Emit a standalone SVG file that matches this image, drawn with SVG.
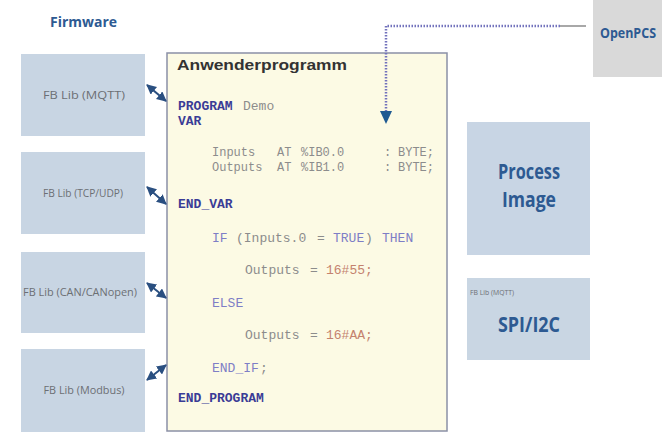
<svg xmlns="http://www.w3.org/2000/svg" width="662" height="432" viewBox="0 0 662 432">
<defs>
<marker id="ah" viewBox="0 0 10 10" refX="9" refY="5" markerWidth="5" markerHeight="5" orient="auto-start-reverse">
<path d="M0,0 L10,5 L0,10 z" fill="#2a4f80"/>
</marker>
<style>
.fb{fill:#c8d5e3;}
.fbt{font-family:"Open Sans","Liberation Sans",sans-serif;font-size:11px;fill:#6c6f74;text-anchor:middle;}
.big{font-family:"Open Sans","Liberation Sans",sans-serif;font-weight:bold;fill:#2d5a92;text-anchor:middle;}
.code{font-family:"Liberation Mono","DejaVu Sans Mono",monospace;font-size:13px;fill:#8c8c8c;}
.sm{font-size:12px;}
.kw{fill:#3a3c96;font-weight:bold;}
.kl{fill:#7e7ec6;}
.num{fill:#c4826e;}
.conn{stroke:#2a4f80;stroke-width:2;fill:none;}
</style>
</defs>
<rect width="662" height="432" fill="#ffffff"/>

<g id="title-firmware">
<text x="50" y="27" font-family="'Open Sans','Liberation Sans',sans-serif" font-weight="bold" font-size="15" fill="#2d5a92" textLength="67" lengthAdjust="spacingAndGlyphs">Firmware</text>
</g>

<g id="fb-mqtt">
<rect class="fb" x="21" y="54" width="124" height="82"/>
<text class="fbt" x="84" y="99" textLength="82" lengthAdjust="spacingAndGlyphs">FB Lib (MQTT)</text>
</g>
<g id="fb-tcp">
<rect class="fb" x="21" y="152" width="124" height="82"/>
<text class="fbt" x="83" y="197" textLength="80" lengthAdjust="spacingAndGlyphs">FB Lib (TCP/UDP)</text>
</g>
<g id="fb-can">
<rect class="fb" x="21" y="252" width="124" height="81"/>
<text class="fbt" x="80" y="296" textLength="114" lengthAdjust="spacingAndGlyphs">FB Lib (CAN/CANopen)</text>
</g>
<g id="fb-modbus">
<rect class="fb" x="21" y="349" width="124" height="83"/>
<text class="fbt" x="84" y="394" textLength="81" lengthAdjust="spacingAndGlyphs">FB Lib (Modbus)</text>
</g>

<g id="openpcs">
<rect x="593" y="0" width="69" height="77" fill="#d9d9d9"/>
<text x="600" y="38" font-family="'Open Sans','Liberation Sans',sans-serif" font-weight="bold" font-size="14" fill="#2d5a92" textLength="56" lengthAdjust="spacingAndGlyphs">OpenPCS</text>
</g>

<g id="process-image">
<rect x="467" y="122" width="123" height="133" fill="#c8d5e4"/>
<text class="big" x="529" y="179" font-size="21" textLength="62" lengthAdjust="spacingAndGlyphs">Process</text>
<text class="big" x="529" y="207" font-size="21" textLength="54" lengthAdjust="spacingAndGlyphs">Image</text>
</g>

<g id="spi-i2c">
<rect x="467" y="278" width="123" height="82" fill="#c9d6e3"/>
<text x="470" y="295" font-family="'Open Sans','Liberation Sans',sans-serif" font-size="8" fill="#6c6f74" textLength="44" lengthAdjust="spacingAndGlyphs">FB Lib (MQTT)</text>
<text class="big" x="529" y="332" font-size="21" textLength="62" lengthAdjust="spacingAndGlyphs">SPI/I2C</text>
</g>

<g id="anwenderprogramm">
<rect x="167" y="53" width="280" height="378" fill="#fcfae4" stroke="#8b90a6" stroke-width="1.5"/>
<text x="177" y="70" font-family="'Liberation Sans',Arial,sans-serif" font-weight="bold" font-size="15.5" fill="#333333" textLength="170" lengthAdjust="spacingAndGlyphs">Anwenderprogramm</text>
<g class="code">
<text y="110"><tspan class="kw" x="178">PROGRAM</tspan><tspan x="243">Demo</tspan></text>
<text y="125"><tspan class="kw" x="178">VAR</tspan></text>
<text class="sm" y="156"><tspan x="212">Inputs</tspan><tspan x="277">AT</tspan><tspan x="301">%IB0.0</tspan><tspan x="384">:</tspan><tspan x="398">BYTE;</tspan></text>
<text class="sm" y="171"><tspan x="212">Outputs</tspan><tspan x="277">AT</tspan><tspan x="301">%IB1.0</tspan><tspan x="384">:</tspan><tspan x="398">BYTE;</tspan></text>
<text y="208"><tspan class="kw" x="178">END_VAR</tspan></text>
<text y="242"><tspan class="kl" x="212">IF</tspan><tspan x="236">(Inputs.0</tspan><tspan x="317">=</tspan><tspan class="kl" x="333">TRUE</tspan><tspan x="365">)</tspan><tspan class="kl" x="382">THEN</tspan></text>
<text y="274"><tspan x="245">Outputs</tspan><tspan x="310">=</tspan><tspan class="num" x="326">16#55;</tspan></text>
<text y="307"><tspan class="kl" x="212">ELSE</tspan></text>
<text y="339"><tspan x="245">Outputs</tspan><tspan x="310">=</tspan><tspan class="num" x="326">16#AA;</tspan></text>
<text y="372"><tspan class="kl" x="212">END_IF</tspan><tspan x="260">;</tspan></text>
<text y="402"><tspan class="kw" x="178">END_PROGRAM</tspan></text>
</g>
</g>

<g id="connectors">
<line class="conn" x1="147" y1="85" x2="166" y2="101" marker-start="url(#ah)" marker-end="url(#ah)"/>
<line class="conn" x1="147" y1="187" x2="166" y2="204" marker-start="url(#ah)" marker-end="url(#ah)"/>
<line class="conn" x1="147" y1="283" x2="166" y2="298" marker-start="url(#ah)" marker-end="url(#ah)"/>
<line class="conn" x1="147" y1="380" x2="166" y2="365" marker-start="url(#ah)" marker-end="url(#ah)"/>
<line x1="560" y1="26" x2="586" y2="26" stroke="#a8a8a8" stroke-width="2"/>
<polyline points="560,26 386,26 386,112" fill="none" stroke="#7272bc" stroke-width="2.5" stroke-dasharray="1.5 1.5"/>
<path d="M380,111 L392,111 L386,124 z" fill="#1f5a92"/>
</g>
</svg>
